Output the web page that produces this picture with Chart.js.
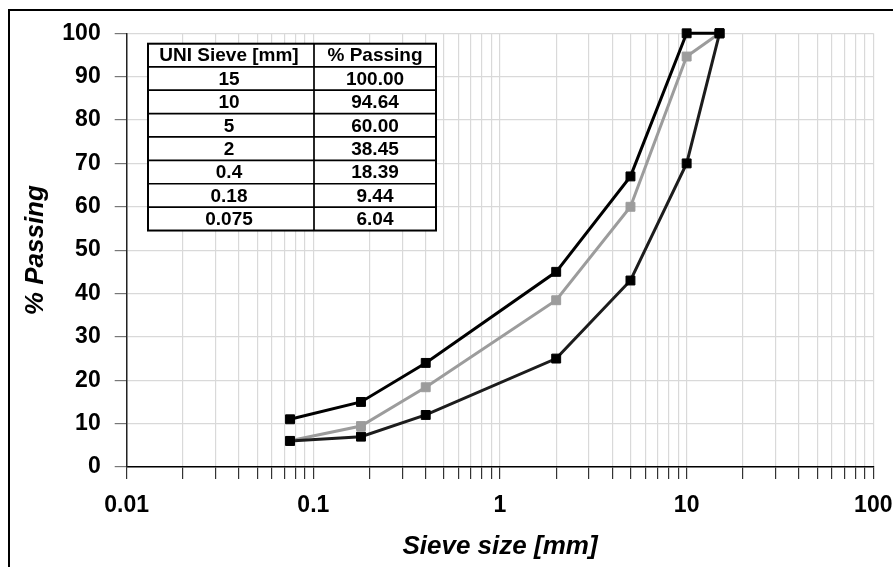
<!DOCTYPE html>
<html>
<head>
<meta charset="utf-8">
<script src="https://cdn.jsdelivr.net/npm/chart.js@4/dist/chart.umd.min.js"></script>
<style>
  html, body { margin: 0; padding: 0; background: #fff; }
  #wrap { width: 893px; height: 567px; position: relative; }
</style>
</head>
<body>
<div id="wrap"><canvas id="c"></canvas></div>
<script>
// ---- data ----
const sieveSizes   = [0.075, 0.18, 0.4, 2, 5, 10, 15];
const upperLimit   = [11, 15, 24, 45, 67, 100, 100];
const lowerLimit   = [6, 7, 12, 25, 43, 70, 100];
const passing      = [6.04, 9.44, 18.39, 38.45, 60.00, 94.64, 100.00];

const tableHeader  = ['UNI Sieve [mm]', '% Passing'];
const tableSieve   = ['15', '10', '5', '2', '0.4', '0.18', '0.075'];
const tablePassing = ['100.00', '94.64', '60.00', '38.45', '18.39', '9.44', '6.04'];

const xMajor       = [0.01, 0.1, 1, 10, 100];
const xTickLabels  = ['0.01', '0.1', '1', '10', '100'];
const xMultipliers = [1, 2, 3, 4, 5, 6, 7, 8, 9];
const yTickValues  = [0, 10, 20, 30, 40, 50, 60, 70, 80, 90, 100];

const xTitle = 'Sieve size [mm]';
const yTitle = '% Passing';

// ---- helpers ----
const xGridValues = [];
xMajor.forEach((d, i) => {
  if (i < xMajor.length - 1) xMultipliers.forEach(m => xGridValues.push(d * m));
  else xGridValues.push(d);
});
const pts = arr => sieveSizes.map((s, i) => ({ x: s, y: arr[i] }));

const FONT = "'Liberation Sans', Arial, sans-serif";

const framePlugin = {
  id: 'frame',
  beforeDraw(chart) {
    const ctx = chart.ctx;
    ctx.save();
    ctx.fillStyle = '#fff';
    ctx.fillRect(0, 0, chart.width, chart.height);
    ctx.strokeStyle = '#000';
    ctx.lineWidth = 2;
    ctx.strokeRect(9, 10, 1000, 1000);
    ctx.restore();
  }
};

const tablePlugin = {
  id: 'table',
  afterDraw(chart) {
    const ctx = chart.ctx;
    const left = 148, mid = 314, right = 436, top = 43.7;
    const headerH = 23.1, rowH = 23.39;
    const nRows = tableSieve.length;
    const bottom = top + headerH + rowH * nRows;
    ctx.save();
    ctx.fillStyle = '#fff';
    ctx.fillRect(left, top, right - left, bottom - top);
    ctx.strokeStyle = '#000';
    ctx.lineWidth = 1.7;
    for (let i = 0; i < nRows; i++) {
      const y = top + headerH + rowH * i;
      ctx.beginPath(); ctx.moveTo(left, y); ctx.lineTo(right, y); ctx.stroke();
    }
    ctx.beginPath(); ctx.moveTo(mid, top); ctx.lineTo(mid, bottom); ctx.stroke();
    ctx.lineWidth = 2;
    ctx.strokeRect(left, top, right - left, bottom - top);
    ctx.fillStyle = '#000';
    ctx.font = 'bold 19px ' + FONT;
    ctx.textAlign = 'center';
    ctx.textBaseline = 'middle';
    const c1 = (left + mid) / 2 - 2, c2 = (mid + right) / 2;
    ctx.fillText(tableHeader[0], c1, top + headerH / 2 + 1);
    ctx.fillText(tableHeader[1], c2, top + headerH / 2 + 1);
    for (let i = 0; i < nRows; i++) {
      const y = top + headerH + rowH * i + rowH / 2 + 1;
      ctx.fillText(tableSieve[i], c1, y);
      ctx.fillText(tablePassing[i], c2, y);
    }
    ctx.restore();
  }
};

new Chart(document.getElementById('c'), {
  type: 'line',
  data: {
    datasets: [
      { label: 'Upper', data: pts(upperLimit), borderColor: '#000', backgroundColor: '#000',
        pointBackgroundColor: '#000', pointBorderColor: '#000' },
      { label: 'Lower', data: pts(lowerLimit), borderColor: '#1c1c1c', backgroundColor: '#1c1c1c',
        pointBackgroundColor: '#000', pointBorderColor: '#000' },
      { label: 'Mix', data: pts(passing), borderColor: '#9c9c9c', backgroundColor: '#9c9c9c',
        pointBackgroundColor: '#9c9c9c', pointBorderColor: '#9c9c9c' }
    ].map(d => Object.assign(d, {
      borderWidth: 3, pointStyle: 'rect', pointRadius: 6.3, pointBorderWidth: 1,
      tension: 0, fill: false, clip: false
    }))
  },
  options: {
    responsive: true,
    maintainAspectRatio: false,
    animation: false,
    events: [],
    layout: { padding: { left: 0, top: 33.3, right: 19.7, bottom: 0 } },
    plugins: { legend: { display: false }, tooltip: { enabled: false }, title: { display: false } },
    scales: {
      x: {
        type: 'logarithmic',
        min: 0.01, max: 100,
        afterFit(s) { s.height = 100; s.paddingLeft = 0; s.paddingRight = 0; },
        afterBuildTicks(s) { s.ticks = xGridValues.map(v => ({ value: v })); },
        grid: { color: '#d9d9d9', lineWidth: 1.2, tickColor: '#333', tickLength: 12, drawTicks: true },
        border: { color: '#000', width: 1.5 },
        ticks: {
          autoSkip: false, maxRotation: 0, minRotation: 0, padding: 13, color: '#000',
          font: { family: FONT, size: 23, weight: 'bold' },
          callback(value) {
            const i = xMajor.findIndex(m => Math.abs(m - value) < 1e-9 * m);
            return i >= 0 ? xTickLabels[i] : '';
          }
        },
        title: {
          display: true, text: xTitle, color: '#000',
          font: { family: FONT, size: 26, weight: 'bold', style: 'italic' },
          padding: { top: 0, bottom: 5 }
        }
      },
      y: {
        type: 'linear',
        min: 0, max: 100,
        afterFit(s) { s.width = 126.7; s.paddingTop = 0; s.paddingBottom = 0; },
        afterBuildTicks(s) { s.ticks = yTickValues.map(v => ({ value: v })); },
        grid: { color: '#d9d9d9', lineWidth: 1.2, tickColor: '#777', tickLength: 12 },
        border: { color: '#222', width: 1.5 },
        ticks: {
          padding: 14, color: '#000',
          font: { family: FONT, size: 23, weight: 'bold' }
        },
        title: {
          display: true, text: yTitle, color: '#000',
          font: { family: FONT, size: 26, weight: 'bold', style: 'italic' },
          padding: { top: 20, bottom: 0 }
        }
      }
    }
  },
  plugins: [framePlugin, tablePlugin]
});
</script>
</body>
</html>
